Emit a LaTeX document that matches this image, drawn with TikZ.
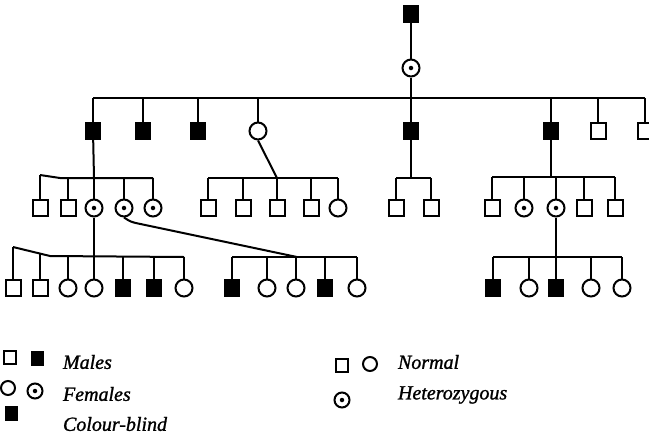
\documentclass[tikz,border=0pt]{standalone}
\usepackage{fontspec}
\setmainfont{Liberation Serif}[ItalicFeatures={FakeBold=1.2}]
\begin{document}
\begin{tikzpicture}[x=1pt,y=-1pt,
  line width=2pt,
  msq/.style={draw,rectangle,minimum width=15pt,minimum height=16pt,inner sep=0pt,line width=2pt,fill=white},
  cb/.style={draw,rectangle,minimum width=15pt,minimum height=17pt,inner sep=0pt,fill=black,line width=1pt},
  fem/.style={draw,circle,minimum size=17pt,inner sep=0pt,line width=2pt,fill=white},
  dot/.style={circle,fill=black,inner sep=0pt,minimum size=4.5pt},
  het/.style={fem,label={[dot]center:}},
  lmsq/.style={msq,minimum width=12pt,minimum height=13pt},
  lcb/.style={cb,minimum width=12pt,minimum height=14pt},
  lfem/.style={fem,minimum size=14pt},
  lhet/.style={fem,minimum size=15pt,label={[dot]center:}},
  txt/.style={anchor=west,inner sep=0pt,font=\fontsize{20}{23}\selectfont\itshape}]
\useasboundingbox (0,0) rectangle (649,437);

% Generation I
\node[cb] (I1) at (411,14) {};
\node[het] (I2) at (411,68) {};
\draw (I1) -- (I2);

% Generation II
\foreach \n/\x/\s in {1/93/cb,2/143/cb,3/198/cb,4/258/fem,5/411/cb,6/551/cb,7/598/msq,8/645/msq}
  \node[\s] (II\n) at (\x,131) {};
\coordinate (sI) at (411,98);
\draw (II1.north |- sI) -- (II8.north |- sI);
\draw (I2) -- (sI);
\foreach \n in {1,2,3,4,6,7,8} \draw (II\n.north) -- (II\n.north |- sI);
\draw (II5) -- (sI);

% Generation III
\foreach \n/\x/\s in {1/40/msq,2/68/msq,3/94/het,4/124/het,5/153/het}
  \node[\s] (IIIa\n) at (\x,208) {};
\coordinate (sa) at (94,178);
\draw (IIIa1.north |- 0,175) -- (60,178) -- (IIIa5.north |- sa);
\foreach \n in {2,3,4,5} \draw (IIIa\n.north) -- (IIIa\n.north |- sa);
\draw (IIIa1.north) -- (IIIa1.north |- 0,175);
\draw (II1) -- (sa);

\foreach \n/\x/\s in {1/208/msq,2/243/msq,3/277/msq,4/311/msq,5/338/fem}
  \node[\s] (IIIb\n) at (\x,208) {};
\coordinate (sb) at (277,178);
\draw (IIIb1.north |- sb) -- (IIIb5.north |- sb);
\foreach \n in {1,2,3,4,5} \draw (IIIb\n.north) -- (IIIb\n.north |- sb);
\draw (II4.south) -- (sb);

\foreach \n/\x/\s in {1/396/msq,2/431/msq}
  \node[\s] (IIIc\n) at (\x,208) {};
\coordinate (sc) at (411,178);
\draw (IIIc1.north |- sc) -- (IIIc2.north |- sc);
\foreach \n in {1,2} \draw (IIIc\n.north) -- (IIIc\n.north |- sc);
\draw (II5) -- (sc);

\foreach \n/\x/\s in {1/492/msq,2/524/het,3/556/het,4/584/msq,5/615/msq}
  \node[\s] (IIId\n) at (\x,208) {};
\coordinate (sd) at (551,177);
\draw (IIId1.north |- sd) -- (IIId5.north |- sd);
\foreach \n in {1,2,3,4,5} \draw (IIId\n.north) -- (IIId\n.north |- sd);
\draw (II6) -- (sd);

% Generation IV
\foreach \n/\x/\s in {1/13/msq,2/40/msq,3/68/fem,4/94/fem,5/123/cb,6/154/cb,7/184/fem}
  \node[\s] (IVa\n) at (\x,288) {};
\coordinate (se) at (94,257);
\draw (IVa1.north |- 0,247) -- (50,256) -- (IVa7.north |- se);
\draw (IVa1.north) -- (IVa1.north |- 0,247);
\draw (IVa2.north) -- (IVa2.north |- 0,254);
\foreach \n in {3,4,5,6,7} \draw (IVa\n.north) -- (IVa\n.north |- se);
\draw (IIIa3) -- (se);

\foreach \n/\x/\s in {1/232/cb,2/267/fem,3/296/fem,4/325/cb,5/357/fem}
  \node[\s] (IVb\n) at (\x,288) {};
\coordinate (sf) at (297,257);
\draw (IVb1.north |- sf) -- (IVb5.north |- sf);
\foreach \n in {1,2,3,4,5} \draw (IVb\n.north) -- (IVb\n.north |- sf);
\draw[rounded corners=4pt] (IIIa4.south) -- (131,222) -- (sf);

\foreach \n/\x/\s in {1/493/cb,2/529/fem,3/556/cb,4/591/fem,5/622/fem}
  \node[\s] (IVc\n) at (\x,288) {};
\coordinate (sg) at (556,257);
\draw (IVc1.north |- sg) -- (IVc5.north |- sg);
\foreach \n in {1,2,4,5} \draw (IVc\n.north) -- (IVc\n.north |- sg);
\draw (IIId3) -- (IVc3);

% Legend
\node[lmsq] (L1) at (10,357) {};
\node[lcb] (L2) at (37,358) {};
\node[txt] (T1) at (62,362) {Males};
\node[lfem] (L3) at (8,388) {};
\node[lhet] (L4) at (35,391) {};
\node[txt] (T2) at (62,394) {Females};
\node[lcb] (L5) at (11,413) {};
\node[txt] (T3) at (62,424) {Colour-blind};

\node[lmsq] (L6) at (342,365) {};
\node[lfem] (L7) at (370,364) {};
\node[txt] (T4) at (397,362) {Normal};
\node[lhet] (L8) at (342,400) {};
\node[txt] (T5) at (397,395) {Heterozygous};
\end{tikzpicture}
\end{document}
